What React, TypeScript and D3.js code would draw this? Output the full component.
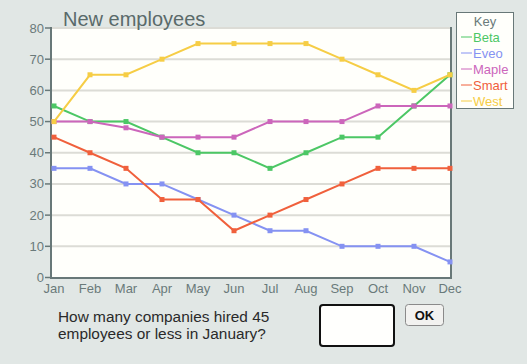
import React from "react";
import * as d3 from "d3";

const months = ["Jan", "Feb", "Mar", "Apr", "May", "Jun", "Jul", "Aug", "Sep", "Oct", "Nov", "Dec"];
const seriesNames = ["Beta", "Eveo", "Maple", "Smart", "West"];
const seriesColors = ["#4cc765", "#8592f2", "#cc66bb", "#f0603c", "#f6cd45"];
const beta = [55, 50, 50, 45, 40, 40, 35, 40, 45, 45, 55, 65];
const eveo = [35, 35, 30, 30, 25, 20, 15, 15, 10, 10, 10, 5];
const maple = [50, 50, 48, 45, 45, 45, 50, 50, 50, 55, 55, 55];
const smart = [45, 40, 35, 25, 25, 15, 20, 25, 30, 35, 35, 35];
const west = [50, 65, 65, 70, 75, 75, 75, 75, 70, 65, 60, 65];
const yTicks = [0, 10, 20, 30, 40, 50, 60, 70, 80];

const allSeries = [beta, eveo, maple, smart, west];

const W = 527;
const H = 364;
const font = "'Liberation Sans', Arial, sans-serif";
const axisColor = "#687878";
const textColor = "#6a7a7a";

export default function App() {
  const x = d3.scalePoint<string>().domain(months).range([54, 450]);
  const y = d3.scaleLinear().domain([0, 80]).range([277.5, 28]);
  const line = d3
    .line<number>()
    .x((_, i) => x(months[i]) as number)
    .y((d) => y(d));

  return (
    <svg
      width={W}
      height={H}
      style={{ position: "fixed", left: 0, top: 0, display: "block" }}
      fontFamily={font}
    >
      <rect width={W} height={H} fill="#e1e7e5" />
      {/* plot area */}
      <rect x={51} y={27} width={400} height={251} fill="#fffffb" />
      {yTicks.slice(1).map((t) => (
        <line key={t} x1={52} x2={450} y1={y(t)} y2={y(t)} stroke="#dcdcd6" strokeWidth={2} />
      ))}
      {/* frame */}
      <line x1={451} x2={451} y1={27} y2={278.5} stroke={axisColor} strokeWidth={2} />
      <line x1={51} x2={51} y1={27} y2={278.5} stroke={axisColor} strokeWidth={2} />
      <line x1={50} x2={452} y1={278} y2={278} stroke={axisColor} strokeWidth={2} />
      {yTicks.map((t) => (
        <g key={t}>
          <line x1={45} x2={51} y1={y(t)} y2={y(t)} stroke={axisColor} strokeWidth={1.5} />
          <text x={44} y={y(t) + 4.5} textAnchor="end" fontSize={13} fill={textColor}>
            {t}
          </text>
        </g>
      ))}
      {months.map((m) => (
        <text key={m} x={x(m)} y={293} textAnchor="middle" fontSize={13} fill={textColor}>
          {m}
        </text>
      ))}
      {/* series */}
      {allSeries.map((s, k) => (
        <g key={seriesNames[k]}>
          <path d={line(s) || ""} fill="none" stroke={seriesColors[k]} strokeWidth={2} />
          {s.map((v, i) => (
            <rect
              key={i}
              x={(x(months[i]) as number) - 2.5}
              y={y(v) - 2.5}
              width={5}
              height={5}
              fill={seriesColors[k]}
            />
          ))}
        </g>
      ))}
      {/* title */}
      <text x={63} y={26} fontSize={20} fill="#5a6a6a">
        New employees
      </text>
      {/* legend */}
      <rect x={456.5} y={12.5} width={57} height={96} fill="#fffffb" stroke={axisColor} strokeWidth={1} />
      <text x={485} y={26} textAnchor="middle" fontSize={13} fill={textColor}>
        Key
      </text>
      {seriesNames.map((n, k) => (
        <g key={n}>
          <line x1={461} x2={472} y1={37 + k * 16} y2={37 + k * 16} stroke={seriesColors[k]} strokeWidth={1} />
          <text x={473} y={42 + k * 16} fontSize={13} fill={seriesColors[k]}>
            {n}
          </text>
        </g>
      ))}
      {/* question */}
      <text x={58} y={322} fontSize={15.4} fill="#2a2a2a">
        How many companies hired 45
      </text>
      <text x={58} y={339} fontSize={15.4} fill="#2a2a2a">
        employees or less in January?
      </text>
      <rect x={320} y={305} width={74} height={41} rx={3} fill="#fffffd" stroke="#111" strokeWidth={2} />
      <rect x={405.5} y={304.5} width={38} height={21} rx={3} fill="#f2f2f0" stroke="#8a8a8a" strokeWidth={1} />
      <text x={424.5} y={320} textAnchor="middle" fontSize={13} fontWeight="bold" fill="#111">
        OK
      </text>
    </svg>
  );
}
